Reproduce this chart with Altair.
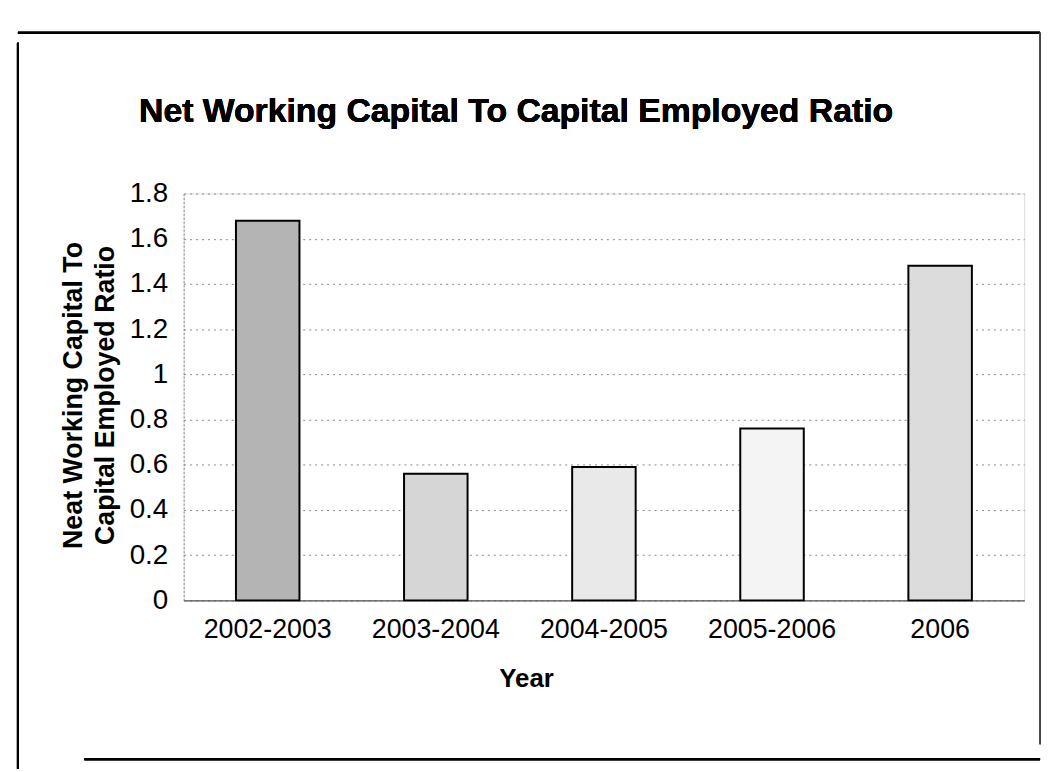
import altair as alt
import pandas as pd

years = ["2002-2003", "2003-2004", "2004-2005", "2005-2006", "2006"]
ratios = [1.68, 0.56, 0.59, 0.76, 1.48]
fills = ["#b4b4b4", "#d6d6d6", "#e9e9e9", "#f4f4f4", "#dcdcdc"]
y_ticks = [0, 0.2, 0.4, 0.6, 0.8, 1, 1.2, 1.4, 1.6, 1.8]
title_text = "Net Working Capital To Capital Employed Ratio"

df = pd.DataFrame({"Year": years, "Ratio": ratios, "Fill": fills})

W, H = 847, 410
FONT = "Liberation Sans, Arial, sans-serif"

bars = alt.Chart(df).mark_bar(size=64, stroke="black", strokeWidth=2).encode(
    x=alt.X("Year:N", sort=years,
            axis=alt.Axis(title="Year", labelAngle=0, labelFontSize=27,
                          labelFont=FONT, labelColor="black",
                          labelPadding=16, ticks=False,
                          domainColor="#555", domainWidth=1.5,
                          titleFont=FONT, titleFontSize=26,
                          titleFontWeight="bold", titleColor="black",
                          titleX=345, titlePadding=24)),
    y=alt.Y("Ratio:Q", scale=alt.Scale(domain=[0, 1.8], nice=False),
            axis=alt.Axis(title=["Neat Working Capital To", "Capital Employed Ratio"],
                          values=y_ticks, format=".1~f", labelFontSize=28,
                          labelFont=FONT, labelColor="black",
                          labelPadding=16, ticks=False,
                          domainColor="#888", domainDash=[2, 2],
                          grid=True, gridColor="#888", gridDash=[2, 4],
                          gridWidth=1,
                          titleFont=FONT, titleFontSize=27,
                          titleFontWeight="bold", titleColor="black",
                          titleLineHeight=32, titleX=-97, titleY=203)),
    fill=alt.Fill("Fill:N", scale=None, legend=None),
)

title = alt.Chart(df).mark_text(
    font=FONT, fontSize=34, fontWeight="bold", color="black",
    align="center", baseline="alphabetic"
).encode(x=alt.value(335), y=alt.value(-72), text=alt.value(title_text))

frame_left = alt.Chart(df).mark_rule(color="black", strokeWidth=2).encode(
    x=alt.value(-167), y=alt.value(-152), y2=alt.value(580))
frame_top = alt.Chart(df).mark_rule(color="black", strokeWidth=2).encode(
    x=alt.value(-167), x2=alt.value(863), y=alt.value(-162))
frame_right = alt.Chart(df).mark_rule(color="#444", strokeWidth=1).encode(
    x=alt.value(863), y=alt.value(-162), y2=alt.value(555))
frame_bottom = alt.Chart(df).mark_rule(color="black", strokeWidth=2).encode(
    x=alt.value(-100), x2=alt.value(863), y=alt.value(570))

chart = alt.layer(bars, title, frame_left, frame_top, frame_right, frame_bottom).properties(
    width=W, height=H,
    autosize=alt.AutoSizeParams(type="none"),
    padding={"left": 177, "top": 184, "right": 24, "bottom": 170},
).configure_view(stroke=None).configure(background="white")

chart.save("out.html", embed_options={"renderer": "svg", "actions": False})
